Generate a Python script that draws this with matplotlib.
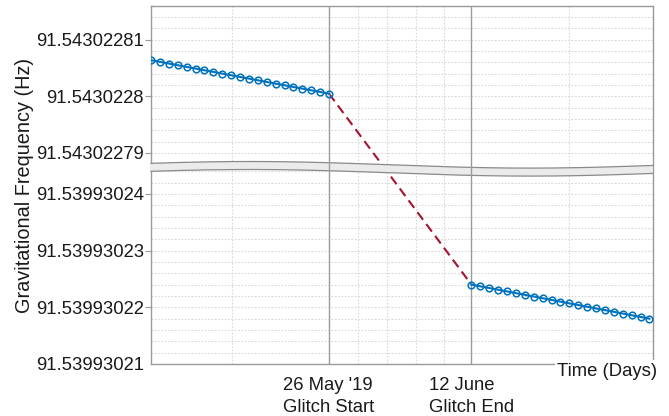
import numpy as np
import matplotlib
matplotlib.use("Agg")
import matplotlib.pyplot as plt
from matplotlib.patches import Polygon

plt.rcParams['font.family'] = ['Liberation Sans', 'DejaVu Sans']

# ---------------- data ----------------
days_before = [0, 1, 2, 3, 4, 5, 6, 7, 8, 9, 10, 11, 12, 13, 14, 15, 16, 17, 18, 19, 20]
freq_before = [91.54302280635, 91.54302280606, 91.54302280576, 91.54302280547,
               91.54302280517, 91.54302280488, 91.54302280458, 91.54302280429,
               91.54302280399, 91.54302280370, 91.54302280340, 91.54302280311,
               91.54302280281, 91.54302280252, 91.54302280222, 91.54302280193,
               91.54302280163, 91.54302280134, 91.54302280104, 91.54302280075,
               91.54302280045]
days_after = [36, 37, 38, 39, 40, 41, 42, 43, 44, 45, 46, 47, 48, 49, 50, 51, 52, 53, 54, 55, 56]
freq_after = [91.53993022400, 91.53993022370, 91.53993022340, 91.53993022310,
              91.53993022280, 91.53993022250, 91.53993022220, 91.53993022190,
              91.53993022160, 91.53993022130, 91.53993022100, 91.53993022070,
              91.53993022040, 91.53993022010, 91.53993021980, 91.53993021950,
              91.53993021920, 91.53993021890, 91.53993021860, 91.53993021830,
              91.53993021800]
glitch_days = [20, 36]
glitch_labels = ["26 May '19\nGlitch Start", "12 June\nGlitch End"]
ytick_values = [91.53993021, 91.53993022, 91.53993023, 91.53993024,
                91.54302279, 91.54302280, 91.54302281]
ytick_labels = ['91.53993021', '91.53993022', '91.53993023', '91.53993024',
                '91.54302279', '91.5430228', '91.54302281']

# ------------- broken-axis mapping -------------
LOW_BASE = 91.53993021
HIGH_BASE = 91.54302279
UNIT = 1e-8
HIGH_OFFSET = 3.723


def to_v(f):
    f = np.asarray(f, dtype=float)
    return np.where(f > 91.541, HIGH_OFFSET + (f - HIGH_BASE) / UNIT, (f - LOW_BASE) / UNIT)


W, H = 669, 416
fig = plt.figure(figsize=(W / 100, H / 100), dpi=100)
L, R, B, T = 151, 653, 364, 6
ax = fig.add_axes([L / W, 1 - B / H, (R - L) / W, (B - T) / H])
ax.set_xlim(0, 56.4)
ax.set_ylim(0, 6.314)

gray = '#9a9a9a'
gridc = '#d9d9d9'
textc = '#1a1a1a'

# grid (dotted)
xgrid = [9.1, 23.26, 26.5, 29.8, 32.9, 47.0]
for xg in xgrid:
    ax.axvline(xg, color=gridc, lw=0.8, ls=(0, (1.5, 1.5)), zorder=0.5)
ygrid = [k * 0.2 for k in range(1, 18)] + [HIGH_OFFSET + k * 0.2 for k in range(0, 14)]
for yg in ygrid:
    if yg < 6.3:
        ax.axhline(yg, color=gridc, lw=0.8, ls=(0, (1.5, 1.5)), zorder=0.5)

# glitch vertical lines
for gd in glitch_days:
    ax.axvline(gd, color=gray, lw=1.0, zorder=4)

# connecting dashed line
ax.plot([days_before[-1], days_after[0]],
        [to_v(freq_before[-1]), to_v(freq_after[0])],
        color='#A2142F', lw=1.5, ls=(0, (4.5, 2.6)), zorder=2)

# series
for d, f in ((days_before, freq_before), (days_after, freq_after)):
    ax.plot(d, to_v(f), color='#0072BD', lw=1.5, marker='o', ms=4.8,
            mfc='none', mec='#0072BD', mew=1.1, zorder=5)

# break band (axes coords)
xs = np.linspace(L, R, 200)
upper = 164.8 - 3.3 * np.cos(2 * np.pi * (xs - 250) / 560)
lower = upper + 8
xf = (xs - L) / (R - L)
uf = (B - upper) / (B - T)
lf = (B - lower) / (B - T)
poly = Polygon(np.column_stack([np.r_[xf, xf[::-1]], np.r_[uf, lf[::-1]]]),
               closed=True, facecolor='#ebebeb', edgecolor='none',
               transform=ax.transAxes, zorder=3, clip_on=False)
ax.add_patch(poly)
ax.plot(xf, uf, color='#8a8a8a', lw=0.9, transform=ax.transAxes, zorder=3.1, clip_on=False)
ax.plot(xf, lf, color='#8a8a8a', lw=0.9, transform=ax.transAxes, zorder=3.1, clip_on=False)

# ticks
ax.set_yticks(to_v(ytick_values))
ax.set_yticklabels(ytick_labels)
ax.set_xticks(glitch_days)
ax.set_xticklabels(glitch_labels, multialignment='left', linespacing=1.45)
ax.tick_params(axis='y', direction='out', length=4, width=0.8, color=gray,
               labelsize=13.3, labelcolor=textc, pad=1.2)
ax.tick_params(axis='x', length=0, labelsize=13.3, labelcolor=textc, pad=9)
ax.yaxis.get_major_ticks()[0].tick1line.set_visible(False)

for s in ax.spines.values():
    s.set_color(gray)
    s.set_linewidth(1.0)

ax.set_ylabel('Gravitational Frequency (Hz)', fontsize=14.3, color=textc, labelpad=1)

fig.text(657 / W, 1 - 371 / H, 'Time (Days)', ha='right', va='center', fontsize=13.3,
         color=textc, bbox=dict(facecolor='white', edgecolor='none', pad=1.5), zorder=10)

fig.savefig('out.png', dpi=100)
